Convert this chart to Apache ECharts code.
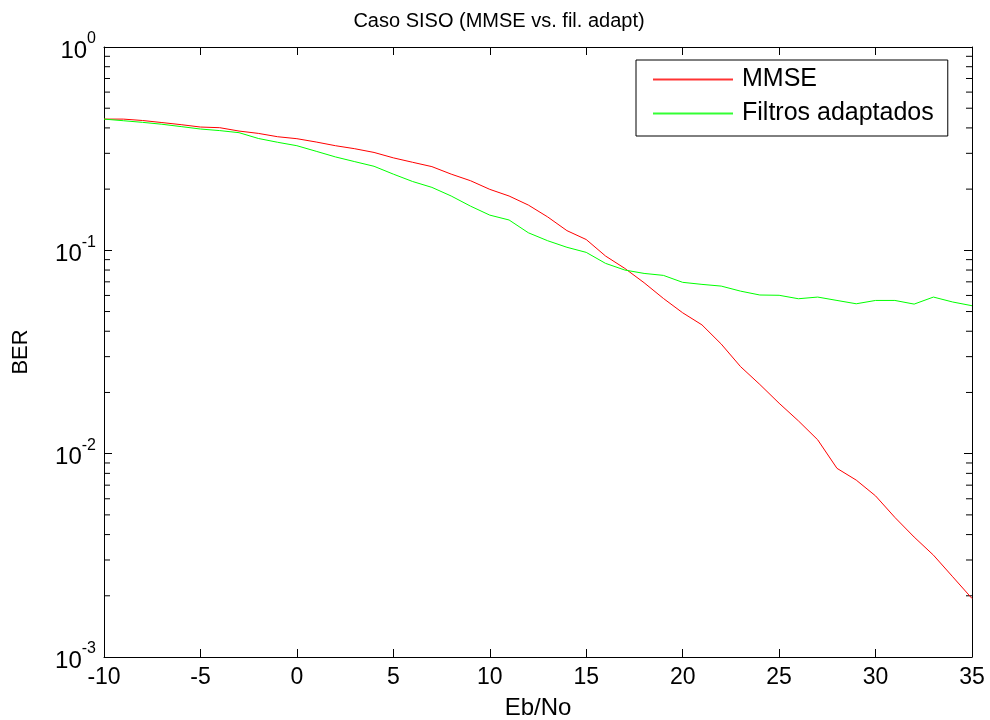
<!DOCTYPE html>
<html>
<head>
<meta charset="utf-8">
<script src="https://cdn.jsdelivr.net/npm/echarts@6/dist/echarts.min.js"></script>
<style>
  html, body { margin: 0; padding: 0; background: #fff; }
  #chart { width: 990px; height: 720px; }
</style>
</head>
<body>
<div id="chart"></div>
<script>
// Eb/No values (dB)
const ebno = [-10,-9,-8,-7,-6,-5,-4,-3,-2,-1,0,1,2,3,4,5,6,7,8,9,10,11,12,13,14,15,16,17,18,19,20,21,22,23,24,25,26,27,28,29,30,31,32,33,34,35];

// BER with the MMSE receiver
const berMMSE = [0.442,0.442,0.435,0.425,0.415,0.404,0.401,0.386,0.376,0.362,0.354,0.341,0.327,0.316,0.303,0.285,0.271,0.258,0.237,0.220,0.1995,0.185,0.167,0.146,0.125,0.113,0.0938,0.0815,0.0693,0.058,0.0493,0.043,0.0346,0.0268,0.0219,0.0177,0.0145,0.0117,0.00847,0.00741,0.0062,0.00486,0.00389,0.00317,0.00248,0.00194];

// BER with matched (adapted) filters
const berMF = [0.442,0.434,0.426,0.417,0.406,0.395,0.388,0.379,0.355,0.340,0.327,0.307,0.288,0.273,0.259,0.237,0.218,0.204,0.185,0.165,0.149,0.141,0.122,0.1115,0.1035,0.0977,0.0863,0.080,0.077,0.0753,0.0696,0.068,0.0667,0.063,0.0603,0.0601,0.0578,0.0589,0.0567,0.0546,0.0567,0.0567,0.0544,0.0589,0.0557,0.0534];

// Log-axis minor tick positions (2..9 x each decade)
const minorTicks = [];
[0.001, 0.01, 0.1].forEach(function (d) {
  for (let k = 2; k <= 9; k++) minorTicks.push(d * k);
});

const seriesNames = ['MMSE', 'Filtros adaptados'];
const seriesColors = ['#ff0000', '#00ff00'];
const FONT = 'Liberation Sans, Arial, sans-serif';

const chart = echarts.init(document.getElementById('chart'), null, { renderer: 'canvas' });

// "10" with the decade exponent as a superscript
function supLabel(v) {
  const e = Math.round(Math.log10(v));
  return '{b|10}{s|' + e + '}';
}

const xCommon = {
  type: 'value', min: -10, max: 35, interval: 5,
  axisLine: { show: true, onZero: false, lineStyle: { color: '#000', width: 1 } },
  axisTick: { show: true, inside: true, length: 8, lineStyle: { color: '#000' } },
  splitLine: { show: false }
};
const yCommon = {
  type: 'log', logBase: 10, min: 0.001, max: 1,
  axisLine: { show: true, onZero: false, lineStyle: { color: '#000', width: 1 } },
  axisTick: { show: true, inside: true, length: 8, lineStyle: { color: '#000' } },
  splitLine: { show: false }
};

chart.setOption({
  animation: false,
  backgroundColor: '#fff',
  title: {
    text: 'Caso SISO (MMSE vs. fil. adapt)',
    left: 494, top: 6, textAlign: 'center',
    textStyle: { fontFamily: FONT, fontSize: 20, fontWeight: 'normal', color: '#000' }
  },
  grid: { left: 104, right: 18, top: 47, bottom: 63, containLabel: false, outerBoundsMode: 'none' },
  legend: {
    orient: 'vertical', left: 636, top: 60,
    backgroundColor: '#fff', borderColor: '#000', borderWidth: 1,
    padding: [7, 14, 10, 17], itemGap: 9,
    itemWidth: 80, itemHeight: 2, icon: 'rect',
    textStyle: { fontFamily: FONT, fontSize: 25, color: '#000', width: 198, padding: [0, 0, 0, 4] },
    data: seriesNames.map((n, i) => ({
      name: n,
      itemStyle: { color: seriesColors[i], borderWidth: 0, opacity: 0.8 }
    }))
  },
  xAxis: [
    Object.assign({}, xCommon, {
      position: 'bottom',
      name: 'Eb/No', nameLocation: 'middle', nameGap: 39,
      nameTextStyle: { fontFamily: FONT, fontSize: 24, color: '#000' },
      axisLabel: { fontFamily: FONT, fontSize: 23, color: '#000', margin: 9 }
    }),
    Object.assign({}, xCommon, { position: 'top', axisLabel: { show: false } })
  ],
  yAxis: [
    Object.assign({}, yCommon, {
      position: 'left',
      name: 'BER', nameLocation: 'middle', nameGap: 72,
      nameTextStyle: { fontFamily: FONT, fontSize: 22, color: '#000' },
      axisLabel: {
        margin: 8,
        formatter: supLabel,
        rich: {
          b: { fontFamily: FONT, fontSize: 24, color: '#000', verticalAlign: 'bottom', lineHeight: 32 },
          s: { fontFamily: FONT, fontSize: 16, color: '#000', verticalAlign: 'top', lineHeight: 32 }
        }
      }
    }),
    Object.assign({}, yCommon, { position: 'right', axisLabel: { show: false } })
  ],
  series: [
    {
      name: seriesNames[0], type: 'line', xAxisIndex: 0, yAxisIndex: 0,
      showSymbol: false, symbol: 'none',
      lineStyle: { color: seriesColors[0], width: 1 }, itemStyle: { color: seriesColors[0] },
      data: ebno.map((x, i) => [x, berMMSE[i]])
    },
    {
      name: seriesNames[1], type: 'line', xAxisIndex: 0, yAxisIndex: 0,
      showSymbol: false, symbol: 'none',
      lineStyle: { color: seriesColors[1], width: 1 }, itemStyle: { color: seriesColors[1] },
      data: ebno.map((x, i) => [x, berMF[i]])
    },
    {
      type: 'custom', xAxisIndex: 0, yAxisIndex: 0, silent: true,
      data: minorTicks.map(v => [-10, v]),
      renderItem: function (params, api) {
        const v = api.value(1);
        const pl = api.coord([-10, v]);
        const pr = api.coord([35, v]);
        const st = { stroke: '#000', lineWidth: 1 };
        return {
          type: 'group',
          children: [
            { type: 'line', shape: { x1: pl[0], y1: pl[1], x2: pl[0] + 6, y2: pl[1] }, style: st },
            { type: 'line', shape: { x1: pr[0], y1: pr[1], x2: pr[0] - 6, y2: pr[1] }, style: st }
          ]
        };
      }
    }
  ]
});
</script>
</body>
</html>
